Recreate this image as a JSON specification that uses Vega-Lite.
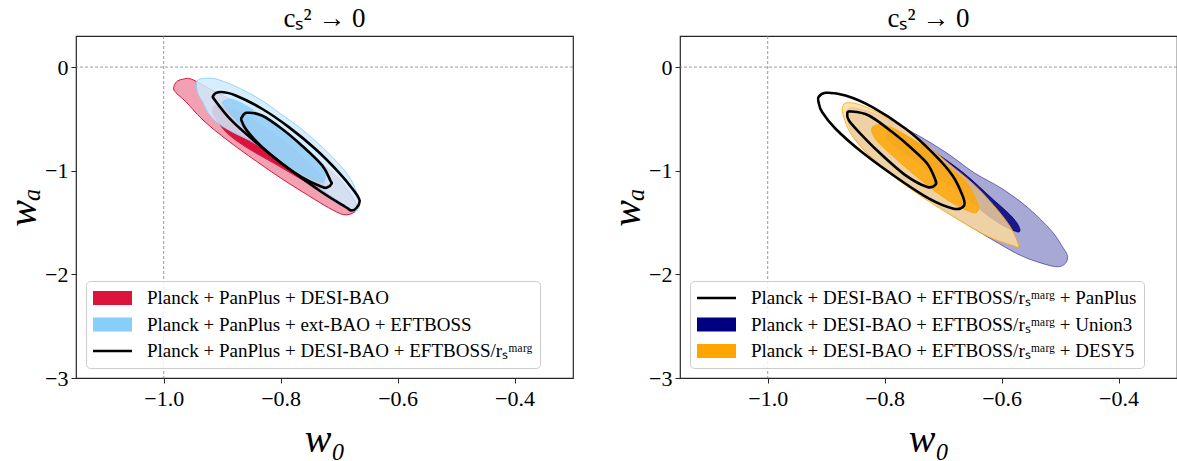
{
  "$schema": "https://vega.github.io/schema/vega-lite/v6.json",
  "padding": {"left": 2, "top": 4, "right": 0, "bottom": 0},
  "spacing": 107,
  "bounds": "flush",
  "resolve": {"scale": {"fill": "independent", "shape": "independent", "x": "independent", "y": "independent"}, "legend": {"fill": "independent", "shape": "independent"}},
  "config": {
    "font": "Liberation Serif",
    "view": {"stroke": "#262626", "strokeWidth": 1.2},
    "axis": {"grid": false, "domain": false, "tickColor": "#262626", "tickSize": 5, "tickWidth": 1, "labelFont": "Liberation Serif", "labelFontSize": 22, "labelColor": "#000000", "labelPadding": 3, "labelFlush": false, "labelOverlap": false, "titleFont": "Liberation Serif", "titleFontSize": 40, "titleFontStyle": "italic", "titleFontWeight": "normal", "titleColor": "#000000"},
    "axisX": {"titlePadding": 10, "labelPadding": 5},
    "axisY": {"titlePadding": 1},
    "title": {"font": "Liberation Serif", "fontSize": 27, "fontWeight": "normal", "color": "#000000", "offset": 3},
    "legend": {"orient": "bottom-left", "offset": 10, "padding": 7, "cornerRadius": 4, "fillColor": "rgba(255,255,255,0.8)", "strokeColor": "#cccccc", "strokeWidth": 1, "labelFont": "Liberation Serif", "labelFontSize": 19, "labelColor": "#000000", "labelLimit": 0, "labelOffset": 15, "symbolSize": 1521, "symbolStrokeWidth": 0, "symbolOpacity": 1, "clipHeight": 20, "rowPadding": 6.5}
  },
  "datasets": {
    "L": [
      {"c": "r2", "i": 0, "x": -0.983, "y": -0.2},
      {"c": "r2", "i": 1, "x": -0.978, "y": -0.142},
      {"c": "r2", "i": 2, "x": -0.968, "y": -0.118},
      {"c": "r2", "i": 3, "x": -0.952, "y": -0.118},
      {"c": "r2", "i": 4, "x": -0.915, "y": -0.229},
      {"c": "r2", "i": 5, "x": -0.872, "y": -0.354},
      {"c": "r2", "i": 6, "x": -0.838, "y": -0.47},
      {"c": "r2", "i": 7, "x": -0.769, "y": -0.759},
      {"c": "r2", "i": 8, "x": -0.706, "y": -1.048},
      {"c": "r2", "i": 9, "x": -0.679, "y": -1.241},
      {"c": "r2", "i": 10, "x": -0.67, "y": -1.338},
      {"c": "r2", "i": 11, "x": -0.674, "y": -1.4},
      {"c": "r2", "i": 12, "x": -0.692, "y": -1.424},
      {"c": "r2", "i": 13, "x": -0.718, "y": -1.357},
      {"c": "r2", "i": 14, "x": -0.752, "y": -1.241},
      {"c": "r2", "i": 15, "x": -0.798, "y": -1.077},
      {"c": "r2", "i": 16, "x": -0.855, "y": -0.855},
      {"c": "r2", "i": 17, "x": -0.901, "y": -0.662},
      {"c": "r2", "i": 18, "x": -0.935, "y": -0.499},
      {"c": "r2", "i": 19, "x": -0.962, "y": -0.335},
      {"c": "r2", "i": 20, "x": -0.979, "y": -0.248},
      {"c": "r1", "i": 0, "x": -0.916, "y": -0.402},
      {"c": "r1", "i": 1, "x": -0.908, "y": -0.364},
      {"c": "r1", "i": 2, "x": -0.877, "y": -0.419},
      {"c": "r1", "i": 3, "x": -0.829, "y": -0.576},
      {"c": "r1", "i": 4, "x": -0.778, "y": -0.788},
      {"c": "r1", "i": 5, "x": -0.738, "y": -1.0},
      {"c": "r1", "i": 6, "x": -0.725, "y": -1.125},
      {"c": "r1", "i": 7, "x": -0.735, "y": -1.164},
      {"c": "r1", "i": 8, "x": -0.757, "y": -1.106},
      {"c": "r1", "i": 9, "x": -0.81, "y": -0.932},
      {"c": "r1", "i": 10, "x": -0.86, "y": -0.769},
      {"c": "r1", "i": 11, "x": -0.892, "y": -0.634},
      {"c": "r1", "i": 12, "x": -0.913, "y": -0.479},
      {"c": "b2", "i": 0, "x": -0.944, "y": -0.152},
      {"c": "b2", "i": 1, "x": -0.94, "y": -0.12},
      {"c": "b2", "i": 2, "x": -0.93, "y": -0.108},
      {"c": "b2", "i": 3, "x": -0.912, "y": -0.113},
      {"c": "b2", "i": 4, "x": -0.883, "y": -0.171},
      {"c": "b2", "i": 5, "x": -0.855, "y": -0.248},
      {"c": "b2", "i": 6, "x": -0.826, "y": -0.344},
      {"c": "b2", "i": 7, "x": -0.798, "y": -0.46},
      {"c": "b2", "i": 8, "x": -0.769, "y": -0.576},
      {"c": "b2", "i": 9, "x": -0.741, "y": -0.711},
      {"c": "b2", "i": 10, "x": -0.712, "y": -0.865},
      {"c": "b2", "i": 11, "x": -0.684, "y": -1.048},
      {"c": "b2", "i": 12, "x": -0.67, "y": -1.205},
      {"c": "b2", "i": 13, "x": -0.665, "y": -1.335},
      {"c": "b2", "i": 14, "x": -0.672, "y": -1.386},
      {"c": "b2", "i": 15, "x": -0.689, "y": -1.337},
      {"c": "b2", "i": 16, "x": -0.73, "y": -1.183},
      {"c": "b2", "i": 17, "x": -0.786, "y": -0.961},
      {"c": "b2", "i": 18, "x": -0.843, "y": -0.74},
      {"c": "b2", "i": 19, "x": -0.88, "y": -0.634},
      {"c": "b2", "i": 20, "x": -0.906, "y": -0.547},
      {"c": "b2", "i": 21, "x": -0.923, "y": -0.45},
      {"c": "b2", "i": 22, "x": -0.933, "y": -0.344},
      {"c": "b2", "i": 23, "x": -0.942, "y": -0.248},
      {"c": "b1", "i": 0, "x": -0.899, "y": -0.332},
      {"c": "b1", "i": 1, "x": -0.883, "y": -0.312},
      {"c": "b1", "i": 2, "x": -0.855, "y": -0.386},
      {"c": "b1", "i": 3, "x": -0.809, "y": -0.563},
      {"c": "b1", "i": 4, "x": -0.769, "y": -0.723},
      {"c": "b1", "i": 5, "x": -0.741, "y": -0.884},
      {"c": "b1", "i": 6, "x": -0.726, "y": -1.013},
      {"c": "b1", "i": 7, "x": -0.724, "y": -1.077},
      {"c": "b1", "i": 8, "x": -0.732, "y": -1.109},
      {"c": "b1", "i": 9, "x": -0.764, "y": -1.029},
      {"c": "b1", "i": 10, "x": -0.809, "y": -0.852},
      {"c": "b1", "i": 11, "x": -0.855, "y": -0.627},
      {"c": "b1", "i": 12, "x": -0.883, "y": -0.467},
      {"c": "b1", "i": 13, "x": -0.897, "y": -0.37},
      {"c": "k2", "i": 0, "x": -0.915, "y": -0.274},
      {"c": "k2", "i": 1, "x": -0.903, "y": -0.241},
      {"c": "k2", "i": 2, "x": -0.877, "y": -0.274},
      {"c": "k2", "i": 3, "x": -0.832, "y": -0.402},
      {"c": "k2", "i": 4, "x": -0.786, "y": -0.579},
      {"c": "k2", "i": 5, "x": -0.741, "y": -0.788},
      {"c": "k2", "i": 6, "x": -0.701, "y": -1.013},
      {"c": "k2", "i": 7, "x": -0.675, "y": -1.19},
      {"c": "k2", "i": 8, "x": -0.665, "y": -1.286},
      {"c": "k2", "i": 9, "x": -0.67, "y": -1.357},
      {"c": "k2", "i": 10, "x": -0.679, "y": -1.383},
      {"c": "k2", "i": 11, "x": -0.689, "y": -1.35},
      {"c": "k2", "i": 12, "x": -0.73, "y": -1.205},
      {"c": "k2", "i": 13, "x": -0.786, "y": -0.981},
      {"c": "k2", "i": 14, "x": -0.843, "y": -0.723},
      {"c": "k2", "i": 15, "x": -0.884, "y": -0.515},
      {"c": "k2", "i": 16, "x": -0.912, "y": -0.322},
      {"c": "k1", "i": 0, "x": -0.866, "y": -0.482},
      {"c": "k1", "i": 1, "x": -0.858, "y": -0.441},
      {"c": "k1", "i": 2, "x": -0.832, "y": -0.467},
      {"c": "k1", "i": 3, "x": -0.798, "y": -0.595},
      {"c": "k1", "i": 4, "x": -0.764, "y": -0.756},
      {"c": "k1", "i": 5, "x": -0.729, "y": -0.949},
      {"c": "k1", "i": 6, "x": -0.715, "y": -1.094},
      {"c": "k1", "i": 7, "x": -0.713, "y": -1.125},
      {"c": "k1", "i": 8, "x": -0.72, "y": -1.159},
      {"c": "k1", "i": 9, "x": -0.729, "y": -1.157},
      {"c": "k1", "i": 10, "x": -0.764, "y": -1.061},
      {"c": "k1", "i": 11, "x": -0.798, "y": -0.932},
      {"c": "k1", "i": 12, "x": -0.832, "y": -0.771},
      {"c": "k1", "i": 13, "x": -0.858, "y": -0.611},
      {"c": "k1", "i": 14, "x": -0.867, "y": -0.515}
    ],
    "R": [
      {"c": "n2", "i": 0, "x": -0.864, "y": -0.421},
      {"c": "n2", "i": 1, "x": -0.85, "y": -0.395},
      {"c": "n2", "i": 2, "x": -0.81, "y": -0.467},
      {"c": "n2", "i": 3, "x": -0.753, "y": -0.627},
      {"c": "n2", "i": 4, "x": -0.696, "y": -0.82},
      {"c": "n2", "i": 5, "x": -0.647, "y": -1.019},
      {"c": "n2", "i": 6, "x": -0.599, "y": -1.174},
      {"c": "n2", "i": 7, "x": -0.553, "y": -1.366},
      {"c": "n2", "i": 8, "x": -0.515, "y": -1.578},
      {"c": "n2", "i": 9, "x": -0.497, "y": -1.723},
      {"c": "n2", "i": 10, "x": -0.487, "y": -1.829},
      {"c": "n2", "i": 11, "x": -0.493, "y": -1.906},
      {"c": "n2", "i": 12, "x": -0.509, "y": -1.925},
      {"c": "n2", "i": 13, "x": -0.545, "y": -1.868},
      {"c": "n2", "i": 14, "x": -0.574, "y": -1.8},
      {"c": "n2", "i": 15, "x": -0.604, "y": -1.704},
      {"c": "n2", "i": 16, "x": -0.639, "y": -1.588},
      {"c": "n2", "i": 17, "x": -0.696, "y": -1.386},
      {"c": "n2", "i": 18, "x": -0.753, "y": -1.174},
      {"c": "n2", "i": 19, "x": -0.81, "y": -0.932},
      {"c": "n2", "i": 20, "x": -0.844, "y": -0.74},
      {"c": "n2", "i": 21, "x": -0.861, "y": -0.566},
      {"c": "n1", "i": 0, "x": -0.796, "y": -0.643},
      {"c": "n1", "i": 1, "x": -0.776, "y": -0.643},
      {"c": "n1", "i": 2, "x": -0.724, "y": -0.788},
      {"c": "n1", "i": 3, "x": -0.667, "y": -1.013},
      {"c": "n1", "i": 4, "x": -0.616, "y": -1.27},
      {"c": "n1", "i": 5, "x": -0.582, "y": -1.446},
      {"c": "n1", "i": 6, "x": -0.569, "y": -1.559},
      {"c": "n1", "i": 7, "x": -0.576, "y": -1.585},
      {"c": "n1", "i": 8, "x": -0.616, "y": -1.463},
      {"c": "n1", "i": 9, "x": -0.673, "y": -1.205},
      {"c": "n1", "i": 10, "x": -0.73, "y": -0.981},
      {"c": "n1", "i": 11, "x": -0.776, "y": -0.788},
      {"c": "n1", "i": 12, "x": -0.793, "y": -0.708},
      {"c": "o2", "i": 0, "x": -0.872, "y": -0.386},
      {"c": "o2", "i": 1, "x": -0.864, "y": -0.344},
      {"c": "o2", "i": 2, "x": -0.839, "y": -0.37},
      {"c": "o2", "i": 3, "x": -0.793, "y": -0.499},
      {"c": "o2", "i": 4, "x": -0.741, "y": -0.691},
      {"c": "o2", "i": 5, "x": -0.696, "y": -0.904},
      {"c": "o2", "i": 6, "x": -0.647, "y": -1.135},
      {"c": "o2", "i": 7, "x": -0.613, "y": -1.338},
      {"c": "o2", "i": 8, "x": -0.587, "y": -1.524},
      {"c": "o2", "i": 9, "x": -0.575, "y": -1.656},
      {"c": "o2", "i": 10, "x": -0.571, "y": -1.736},
      {"c": "o2", "i": 11, "x": -0.582, "y": -1.72},
      {"c": "o2", "i": 12, "x": -0.627, "y": -1.624},
      {"c": "o2", "i": 13, "x": -0.696, "y": -1.398},
      {"c": "o2", "i": 14, "x": -0.764, "y": -1.142},
      {"c": "o2", "i": 15, "x": -0.821, "y": -0.884},
      {"c": "o2", "i": 16, "x": -0.856, "y": -0.66},
      {"c": "o2", "i": 17, "x": -0.87, "y": -0.482},
      {"c": "o1", "i": 0, "x": -0.821, "y": -0.579},
      {"c": "o1", "i": 1, "x": -0.798, "y": -0.563},
      {"c": "o1", "i": 2, "x": -0.753, "y": -0.691},
      {"c": "o1", "i": 3, "x": -0.707, "y": -0.884},
      {"c": "o1", "i": 4, "x": -0.661, "y": -1.109},
      {"c": "o1", "i": 5, "x": -0.642, "y": -1.302},
      {"c": "o1", "i": 6, "x": -0.64, "y": -1.383},
      {"c": "o1", "i": 7, "x": -0.653, "y": -1.398},
      {"c": "o1", "i": 8, "x": -0.696, "y": -1.27},
      {"c": "o1", "i": 9, "x": -0.741, "y": -1.077},
      {"c": "o1", "i": 10, "x": -0.787, "y": -0.852},
      {"c": "o1", "i": 11, "x": -0.816, "y": -0.691},
      {"c": "k2", "i": 0, "x": -0.913, "y": -0.289},
      {"c": "k2", "i": 1, "x": -0.901, "y": -0.248},
      {"c": "k2", "i": 2, "x": -0.867, "y": -0.274},
      {"c": "k2", "i": 3, "x": -0.821, "y": -0.386},
      {"c": "k2", "i": 4, "x": -0.764, "y": -0.595},
      {"c": "k2", "i": 5, "x": -0.719, "y": -0.82},
      {"c": "k2", "i": 6, "x": -0.684, "y": -1.045},
      {"c": "k2", "i": 7, "x": -0.667, "y": -1.238},
      {"c": "k2", "i": 8, "x": -0.664, "y": -1.335},
      {"c": "k2", "i": 9, "x": -0.682, "y": -1.366},
      {"c": "k2", "i": 10, "x": -0.724, "y": -1.27},
      {"c": "k2", "i": 11, "x": -0.781, "y": -1.061},
      {"c": "k2", "i": 12, "x": -0.839, "y": -0.82},
      {"c": "k2", "i": 13, "x": -0.884, "y": -0.595},
      {"c": "k2", "i": 14, "x": -0.907, "y": -0.434},
      {"c": "k2", "i": 15, "x": -0.913, "y": -0.338},
      {"c": "k1", "i": 0, "x": -0.864, "y": -0.45},
      {"c": "k1", "i": 1, "x": -0.858, "y": -0.428},
      {"c": "k1", "i": 2, "x": -0.827, "y": -0.467},
      {"c": "k1", "i": 3, "x": -0.787, "y": -0.627},
      {"c": "k1", "i": 4, "x": -0.753, "y": -0.788},
      {"c": "k1", "i": 5, "x": -0.727, "y": -0.932},
      {"c": "k1", "i": 6, "x": -0.714, "y": -1.077},
      {"c": "k1", "i": 7, "x": -0.713, "y": -1.135},
      {"c": "k1", "i": 8, "x": -0.727, "y": -1.157},
      {"c": "k1", "i": 9, "x": -0.764, "y": -1.045},
      {"c": "k1", "i": 10, "x": -0.81, "y": -0.82},
      {"c": "k1", "i": 11, "x": -0.844, "y": -0.627},
      {"c": "k1", "i": 12, "x": -0.861, "y": -0.515}
    ],
    "legL": [
      {"s": "Planck + PanPlus + DESI-BAO"},
      {"s": "Planck + PanPlus + ext-BAO + EFTBOSS"},
      {"s": "Planck + PanPlus + DESI-BAO + EFTBOSS/rₛᵐᵃʳᵍ"}
    ],
    "legR": [
      {"s": "Planck + DESI-BAO + EFTBOSS/rₛᵐᵃʳᵍ + PanPlus"},
      {"s": "Planck + DESI-BAO + EFTBOSS/rₛᵐᵃʳᵍ + Union3"},
      {"s": "Planck + DESI-BAO + EFTBOSS/rₛᵐᵃʳᵍ + DESY5"}
    ]
  },
  "hconcat": [
    {
      "width": 497,
      "height": 342,
      "title": {"text": "cₛ² → 0"},
      "layer": [
        {"data": {"values": [{}]}, "mark": {"type": "rule", "color": "#808080", "strokeDash": [3, 2], "strokeWidth": 0.8}, "encoding": {"x": {"datum": -1, "type": "quantitative"}}},
        {"data": {"values": [{}]}, "mark": {"type": "rule", "color": "#808080", "strokeDash": [3, 2], "strokeWidth": 0.8}, "encoding": {"y": {"datum": 0, "type": "quantitative"}}},
        {"data": {"name": "L"}, "transform": [{"filter": "datum.c == 'r2'"}], "mark": {"type": "line", "interpolate": "cardinal-closed", "fill": "#F1A1B1", "stroke": "#DC143C", "strokeWidth": 1},
         "encoding": {"x": {"field": "x", "type": "quantitative", "scale": {"domain": [-1.15, -0.3], "nice": false, "zero": false}, "axis": {"values": [-1, -0.8, -0.6, -0.4], "format": ".1f"}, "title": "w₀"},
                      "y": {"field": "y", "type": "quantitative", "scale": {"domain": [-3, 0.3], "nice": false, "zero": false}, "axis": {"values": [-3, -2, -1, 0], "format": "d"}, "title": "wₐ"},
                      "order": {"field": "i", "type": "quantitative"}}},
        {"data": {"name": "L"}, "transform": [{"filter": "datum.c == 'r1'"}], "mark": {"type": "line", "interpolate": "cardinal-closed", "fill": "#DC143C", "stroke": "#DC143C", "strokeWidth": 1},
         "encoding": {"x": {"field": "x", "type": "quantitative", "title": "w₀"}, "y": {"field": "y", "type": "quantitative", "title": "wₐ"}, "order": {"field": "i", "type": "quantitative"}}},
        {"data": {"name": "L"}, "transform": [{"filter": "datum.c == 'b2'"}], "mark": {"type": "line", "interpolate": "cardinal-closed", "fill": "#CFEBFD", "fillOpacity": 0.85, "stroke": "#87CEFA", "strokeOpacity": 0.85, "strokeWidth": 1},
         "encoding": {"x": {"field": "x", "type": "quantitative", "title": "w₀"}, "y": {"field": "y", "type": "quantitative", "title": "wₐ"}, "order": {"field": "i", "type": "quantitative"}}},
        {"data": {"name": "L"}, "transform": [{"filter": "datum.c == 'b1'"}], "mark": {"type": "line", "interpolate": "cardinal-closed", "fill": "#87CEFA", "fillOpacity": 0.75, "stroke": "#87CEFA", "strokeOpacity": 0.8, "strokeWidth": 1},
         "encoding": {"x": {"field": "x", "type": "quantitative", "title": "w₀"}, "y": {"field": "y", "type": "quantitative", "title": "wₐ"}, "order": {"field": "i", "type": "quantitative"}}},
        {"data": {"name": "L"}, "transform": [{"filter": "datum.c == 'k2'"}], "mark": {"type": "line", "interpolate": "cardinal-closed", "stroke": "#000000", "strokeWidth": 2.6},
         "encoding": {"x": {"field": "x", "type": "quantitative", "title": "w₀"}, "y": {"field": "y", "type": "quantitative", "title": "wₐ"}, "order": {"field": "i", "type": "quantitative"}}},
        {"data": {"name": "L"}, "transform": [{"filter": "datum.c == 'k1'"}], "mark": {"type": "line", "interpolate": "cardinal-closed", "stroke": "#000000", "strokeWidth": 2.6},
         "encoding": {"x": {"field": "x", "type": "quantitative", "title": "w₀"}, "y": {"field": "y", "type": "quantitative", "title": "wₐ"}, "order": {"field": "i", "type": "quantitative"}}},
        {"data": {"name": "legL"}, "mark": {"type": "point", "filled": true, "opacity": 0, "size": 1521},
         "encoding": {
           "fill": {"field": "s", "type": "nominal", "scale": {"domain": ["Planck + PanPlus + DESI-BAO", "Planck + PanPlus + ext-BAO + EFTBOSS", "Planck + PanPlus + DESI-BAO + EFTBOSS/rₛᵐᵃʳᵍ"], "range": ["#DC143C", "#87CEFA", "#000000"]}, "legend": {"title": null, "encode": {"symbols": {"update": {"opacity": {"value": 1}, "fillOpacity": {"value": 1}}}}}},
           "shape": {"field": "s", "type": "nominal", "scale": {"domain": ["Planck + PanPlus + DESI-BAO", "Planck + PanPlus + ext-BAO + EFTBOSS", "Planck + PanPlus + DESI-BAO + EFTBOSS/rₛᵐᵃʳᵍ"], "range": ["M-1,-0.36L1,-0.36L1,0.36L-1,0.36Z", "M-1,-0.36L1,-0.36L1,0.36L-1,0.36Z", "M-1,-0.065L1,-0.065L1,0.065L-1,0.065Z"]}, "legend": {"title": null}}
         }}
      ]
    },
    {
      "width": 497,
      "height": 342,
      "title": {"text": "cₛ² → 0"},
      "layer": [
        {"data": {"values": [{}]}, "mark": {"type": "rule", "color": "#808080", "strokeDash": [3, 2], "strokeWidth": 0.8}, "encoding": {"x": {"datum": -1, "type": "quantitative"}}},
        {"data": {"values": [{}]}, "mark": {"type": "rule", "color": "#808080", "strokeDash": [3, 2], "strokeWidth": 0.8}, "encoding": {"y": {"datum": 0, "type": "quantitative"}}},
        {"data": {"name": "R"}, "transform": [{"filter": "datum.c == 'n2'"}], "mark": {"type": "line", "interpolate": "cardinal-closed", "fill": "#9999CC", "fillOpacity": 0.85, "stroke": "#000080", "strokeOpacity": 0.5, "strokeWidth": 1},
         "encoding": {"x": {"field": "x", "type": "quantitative", "scale": {"domain": [-1.15, -0.3], "nice": false, "zero": false}, "axis": {"values": [-1, -0.8, -0.6, -0.4], "format": ".1f"}, "title": "w₀"},
                      "y": {"field": "y", "type": "quantitative", "scale": {"domain": [-3, 0.3], "nice": false, "zero": false}, "axis": {"values": [-3, -2, -1, 0], "format": "d"}, "title": "wₐ"},
                      "order": {"field": "i", "type": "quantitative"}}},
        {"data": {"name": "R"}, "transform": [{"filter": "datum.c == 'n1'"}], "mark": {"type": "line", "interpolate": "cardinal-closed", "fill": "#000080", "fillOpacity": 0.85, "stroke": "#000080", "strokeOpacity": 0.85, "strokeWidth": 1},
         "encoding": {"x": {"field": "x", "type": "quantitative", "title": "w₀"}, "y": {"field": "y", "type": "quantitative", "title": "wₐ"}, "order": {"field": "i", "type": "quantitative"}}},
        {"data": {"name": "R"}, "transform": [{"filter": "datum.c == 'o2'"}], "mark": {"type": "line", "interpolate": "cardinal-closed", "fill": "#FFDB99", "fillOpacity": 0.8, "stroke": "#FFA500", "strokeOpacity": 0.8, "strokeWidth": 1},
         "encoding": {"x": {"field": "x", "type": "quantitative", "title": "w₀"}, "y": {"field": "y", "type": "quantitative", "title": "wₐ"}, "order": {"field": "i", "type": "quantitative"}}},
        {"data": {"name": "R"}, "transform": [{"filter": "datum.c == 'o1'"}], "mark": {"type": "line", "interpolate": "cardinal-closed", "fill": "#FFA500", "fillOpacity": 0.8, "stroke": "#FFA500", "strokeOpacity": 0.8, "strokeWidth": 1},
         "encoding": {"x": {"field": "x", "type": "quantitative", "title": "w₀"}, "y": {"field": "y", "type": "quantitative", "title": "wₐ"}, "order": {"field": "i", "type": "quantitative"}}},
        {"data": {"name": "R"}, "transform": [{"filter": "datum.c == 'k2'"}], "mark": {"type": "line", "interpolate": "cardinal-closed", "stroke": "#000000", "strokeWidth": 2.6},
         "encoding": {"x": {"field": "x", "type": "quantitative", "title": "w₀"}, "y": {"field": "y", "type": "quantitative", "title": "wₐ"}, "order": {"field": "i", "type": "quantitative"}}},
        {"data": {"name": "R"}, "transform": [{"filter": "datum.c == 'k1'"}], "mark": {"type": "line", "interpolate": "cardinal-closed", "stroke": "#000000", "strokeWidth": 2.6},
         "encoding": {"x": {"field": "x", "type": "quantitative", "title": "w₀"}, "y": {"field": "y", "type": "quantitative", "title": "wₐ"}, "order": {"field": "i", "type": "quantitative"}}},
        {"data": {"name": "legR"}, "mark": {"type": "point", "filled": true, "opacity": 0, "size": 1521},
         "encoding": {
           "fill": {"field": "s", "type": "nominal", "scale": {"domain": ["Planck + DESI-BAO + EFTBOSS/rₛᵐᵃʳᵍ + PanPlus", "Planck + DESI-BAO + EFTBOSS/rₛᵐᵃʳᵍ + Union3", "Planck + DESI-BAO + EFTBOSS/rₛᵐᵃʳᵍ + DESY5"], "range": ["#000000", "#000080", "#FFA500"]}, "legend": {"title": null, "encode": {"symbols": {"update": {"opacity": {"value": 1}, "fillOpacity": {"value": 1}}}}}},
           "shape": {"field": "s", "type": "nominal", "scale": {"domain": ["Planck + DESI-BAO + EFTBOSS/rₛᵐᵃʳᵍ + PanPlus", "Planck + DESI-BAO + EFTBOSS/rₛᵐᵃʳᵍ + Union3", "Planck + DESI-BAO + EFTBOSS/rₛᵐᵃʳᵍ + DESY5"], "range": ["M-1,-0.065L1,-0.065L1,0.065L-1,0.065Z", "M-1,-0.36L1,-0.36L1,0.36L-1,0.36Z", "M-1,-0.36L1,-0.36L1,0.36L-1,0.36Z"]}, "legend": {"title": null}}
         }}
      ]
    }
  ]
}
